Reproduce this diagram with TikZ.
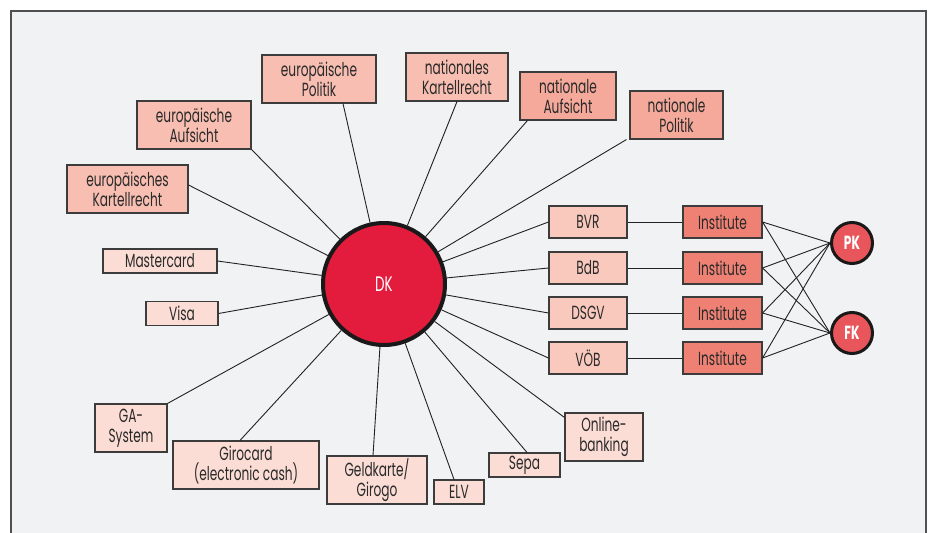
\documentclass[tikz,border=0pt]{standalone}
\usepackage{fontspec}
\setmainfont{Poppins}[FakeStretch=0.64]
\usetikzlibrary{calc}
\definecolor{bgc}{HTML}{F1F2F4}
\definecolor{framec}{HTML}{505050}
\definecolor{boxline}{HTML}{3C3C3C}
\definecolor{textc}{HTML}{2A2A2A}
\definecolor{pinkA}{HTML}{FBDDD5}
\definecolor{pinkB}{HTML}{F7BEB1}
\definecolor{pinkC}{HTML}{F9C9BD}
\definecolor{pinkD}{HTML}{F4A99B}
\definecolor{instc}{HTML}{EE8174}
\definecolor{kc}{HTML}{E8555B}
\definecolor{dkc}{HTML}{E31C3D}
\definecolor{linec}{HTML}{222222}
\tikzset{
  box/.style={draw=boxline, line width=1.1pt, inner sep=0pt, align=center, text=textc,
    font=\fontsize{19}{20}\selectfont},
  tall/.style={minimum height=48pt},
  flat/.style={minimum height=24pt},
  mid/.style={minimum height=32pt},
  conn/.style={draw=linec, line width=0.9pt},
  hub/.style={circle, draw=black!90, line width=4pt, fill=dkc, text=white, inner sep=0pt,
    minimum size=122pt, font=\fontsize{21}{20}\selectfont},
  kreis/.style={circle, draw=black!90, line width=3pt, fill=kc, text=white, inner sep=0pt,
    minimum size=41pt, font=\fontsize{19}{20}\selectfont\bfseries}
}
\begin{document}
\begin{tikzpicture}[x=1pt,y=-1pt]
\path[use as bounding box] (0,0) rectangle (930,533);
\fill[bgc] (11,11) rectangle (926,533);
\draw[framec, line width=1.5pt] (11,533) -- (11,11) -- (926,11) -- (926,533);

% central node
\node[hub] (dk) at (384,284) {DK};

% upper boxes
\node[box, tall, fill=pinkB, minimum width=114pt] (epol) at (319,79) {europäische\\Politik};
\node[box, tall, fill=pinkB, minimum width=114pt] (eauf) at (194,125) {europäische\\Aufsicht};
\node[box, tall, fill=pinkB, minimum width=121pt] (ekart) at (127.5,189) {europäisches\\Kartellrecht};
\node[box, tall, fill=pinkB, minimum width=102pt] (nkart) at (457,77) {nationales\\Kartellrecht};
\node[box, tall, fill=pinkD, minimum width=96pt] (nauf) at (568,96) {nationale\\Aufsicht};
\node[box, tall, fill=pinkD, minimum width=93pt] (npol) at (676.5,115) {nationale\\Politik};

% left and bottom boxes
\node[box, flat, fill=pinkA, minimum width=114pt] (master) at (160,261) {Mastercard};
\node[box, flat, fill=pinkA, minimum width=72pt] (visa) at (182,313.5) {Visa};
\node[box, tall, fill=pinkA, minimum width=72pt] (ga) at (131,428) {GA-\\System};
\node[box, tall, fill=pinkA, minimum width=146pt] (giro) at (246,465) {Girocard\\(electronic cash)};
\node[box, tall, fill=pinkA, minimum width=100pt] (geld) at (377,480) {Geldkarte/\\Girogo};
\node[box, flat, fill=pinkA, minimum width=50pt] (elv) at (459,492) {ELV};
\node[box, flat, fill=pinkA, minimum width=71pt] (sepa) at (524.5,465) {Sepa};
\node[box, tall, fill=pinkA, minimum width=78pt] (online) at (604,437) {Online-\\banking};

% associations
\node[box, mid, fill=pinkC, minimum width=78pt] (bvr) at (588,222) {BVR};
\node[box, mid, fill=pinkC, minimum width=78pt] (bdb) at (588,268) {BdB};
\node[box, mid, fill=pinkC, minimum width=78pt] (dsgv) at (588,313) {DSGV};
\node[box, mid, fill=pinkC, minimum width=78pt] (voeb) at (588,358) {VÖB};

\node[box, mid, fill=instc, minimum width=79pt] (i1) at (722.5,222) {Institute};
\node[box, mid, fill=instc, minimum width=79pt] (i2) at (722.5,268) {Institute};
\node[box, mid, fill=instc, minimum width=79pt] (i3) at (722.5,313) {Institute};
\node[box, mid, fill=instc, minimum width=79pt] (i4) at (722.5,358) {Institute};

\node[kreis] (pk) at (852,243) {PK};
\node[kreis] (fk) at (852,333) {FK};

% connectors to DK
\draw[conn] ([xshift=24pt]epol.south) -- (dk);
\draw[conn] (eauf.south east) -- (dk);
\draw[conn] ([yshift=4pt]ekart.east) -- (dk);
\draw[conn] (nkart.south) -- (dk);
\draw[conn] ([xshift=8pt]nauf.south west) -- (dk);
\draw[conn] ([xshift=-3pt]npol.south west) -- (dk);
\draw[conn] (master.east) -- (dk);
\draw[conn] (visa.east) -- (dk);
\draw[conn] (ga.north east) -- (dk);
\draw[conn] ([xshift=-6pt]giro.north) -- (dk);
\draw[conn] ([xshift=-4pt]geld.north) -- (dk);
\draw[conn] ([xshift=-5pt]elv.north) -- (dk);
\draw[conn] ([xshift=2.5pt]sepa.north) -- (dk);
\draw[conn] ([yshift=-5pt]online.north west) -- (dk);
\draw[conn] (bvr.west) -- (dk);
\draw[conn] (bdb.west) -- (dk);
\draw[conn] (dsgv.west) -- (dk);
\draw[conn] (voeb.west) -- (dk);

\draw[conn] (bvr) -- (i1);
\draw[conn] (bdb) -- (i2);
\draw[conn] (dsgv) -- (i3);
\draw[conn] (voeb) -- (i4);

\foreach \i in {i1,i2,i3,i4}{
  \draw[conn] (\i.east) -- (pk.west);
  \draw[conn] (\i.east) -- (fk.west);
}
\end{tikzpicture}
\end{document}
